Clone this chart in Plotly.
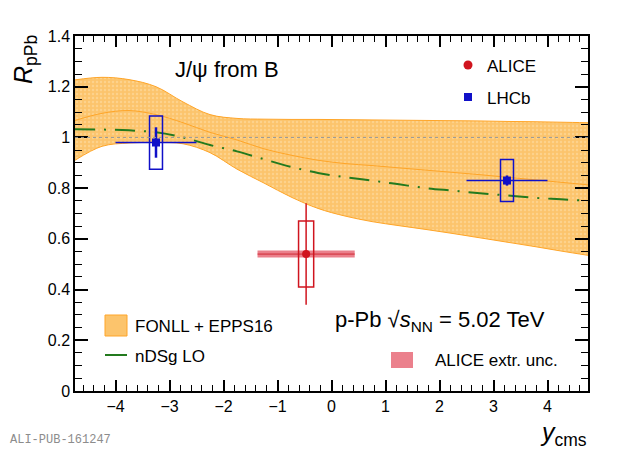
import plotly.graph_objects as go

# rapidity grid for the model curves
y_grid = [-4.75, -4.25, -3.75, -3.25, -2.75, -2.25, -1.75, -1.25, -0.75, -0.25,
          0.25, 0.75, 1.25, 1.75, 2.25, 2.75, 3.25, 3.75, 4.25, 4.75]

# FONLL + EPPS16 band
fonll_up = [1.227, 1.237, 1.228, 1.200, 1.140, 1.090, 1.075, 1.072, 1.071, 1.071,
            1.070, 1.069, 1.068, 1.067, 1.066, 1.065, 1.063, 1.062, 1.060, 1.058]
fonll_lo = [0.910, 0.965, 0.978, 0.980, 0.975, 0.940, 0.875, 0.820, 0.765, 0.720,
            0.690, 0.668, 0.652, 0.637, 0.621, 0.604, 0.587, 0.570, 0.552, 0.535]
fonll_c = [1.067, 1.095, 1.106, 1.090, 1.058, 1.020, 0.990, 0.955, 0.930, 0.910,
           0.897, 0.889, 0.880, 0.871, 0.862, 0.853, 0.843, 0.833, 0.823, 0.813]

# nDSg LO
ndsg = [1.032, 1.031, 1.028, 1.020, 1.000, 0.970, 0.945, 0.914, 0.884, 0.860,
        0.843, 0.830, 0.815, 0.800, 0.790, 0.780, 0.771, 0.762, 0.756, 0.750]

# ALICE
alice_x = [-0.47]
alice_y = [0.54]
alice_stat = [0.20]
alice_sys = [0.13]
alice_extr_lo = [-1.37]
alice_extr_hi = [0.43]

# LHCb
lhcb_x = [-3.25, 3.25]
lhcb_y = [0.98, 0.83]
lhcb_xerr = [0.75, 0.75]
lhcb_stat = [0.06, 0.02]
lhcb_sys = [0.105, 0.083]

RED = "#d0141e"
BLUE = "#1010c8"
GREEN = "#237a1e"
ORANGE = "#ffa528"
EXTR = "rgba(222,50,70,0.62)"
FONT = "Liberation Sans"


# screen pixel -> paper coords (plot area spans x 75..588, y 36..391 on screen)
def px(xp):
    return (xp - 75) / 513


def py(yp):
    return (391 - yp) / 355


fig = go.Figure()

# band
fig.add_trace(go.Scatter(x=y_grid, y=fonll_up, mode="lines", line=dict(color=ORANGE, width=1, shape="spline"),
                         showlegend=False))
fig.add_trace(go.Scatter(x=y_grid, y=fonll_lo, mode="lines", line=dict(color=ORANGE, width=1, shape="spline"),
                         fill="tonexty", fillcolor="#fdc775",
                         fillpattern=dict(shape=".", bgcolor="#fcc46c", fgcolor="#fee0ac", size=4, solidity=0.3),
                         showlegend=False))
fig.add_trace(go.Scatter(x=y_grid, y=fonll_c, mode="lines", line=dict(color=ORANGE, width=1, shape="spline"),
                         showlegend=False))
fig.add_trace(go.Scatter(x=y_grid, y=ndsg, mode="lines",
                         line=dict(color=GREEN, width=2, shape="spline", dash="20px,9px,2px,9px"),
                         showlegend=False))

# ALICE extrapolation uncertainty (wide band)
extr_minus = [x - a for x, a in zip(alice_x, alice_extr_lo)]
extr_plus = [b - x for x, b in zip(alice_x, alice_extr_hi)]
fig.add_trace(go.Scatter(x=alice_x, y=alice_y, mode="markers", marker=dict(size=1, opacity=0),
                         error_x=dict(type="data", symmetric=False, array=extr_plus, arrayminus=extr_minus,
                                      color=EXTR, thickness=7, width=0),
                         showlegend=False))
fig.add_trace(go.Scatter(x=alice_x, y=alice_y, mode="markers", marker=dict(color=RED, size=8, symbol="circle"),
                         error_x=dict(type="data", symmetric=False, array=extr_plus, arrayminus=extr_minus,
                                      color="rgba(200,20,30,0.8)", thickness=1, width=0),
                         error_y=dict(type="data", array=alice_stat, color=RED, thickness=1.5, width=0),
                         showlegend=False))

fig.add_trace(go.Scatter(x=lhcb_x, y=lhcb_y, mode="markers", marker=dict(color=BLUE, size=8, symbol="square"),
                         error_x=dict(type="data", array=lhcb_xerr, color=BLUE, thickness=1.5, width=0),
                         error_y=dict(type="data", array=lhcb_stat, color=BLUE, thickness=2.5, width=0),
                         showlegend=False))

# systematic boxes
for x, y, s in zip(alice_x, alice_y, alice_sys):
    fig.add_shape(type="rect", x0=x - 0.14, x1=x + 0.14, y0=y - s, y1=y + s, line=dict(color=RED, width=1.5))
for x, y, s in zip(lhcb_x, lhcb_y, lhcb_sys):
    fig.add_shape(type="rect", x0=x - 0.12, x1=x + 0.12, y0=y - s, y1=y + s, line=dict(color=BLUE, width=1.5))

# unity line
fig.add_shape(type="line", xref="paper", x0=0, x1=1, y0=1, y1=1, line=dict(color="#999999", width=1, dash="dot"))

# legend-like markers
fig.add_shape(type="circle", xref="paper", yref="paper", x0=px(463.5), x1=px(472.5), y0=py(69.5), y1=py(60.5),
              fillcolor=RED, line=dict(width=0))
fig.add_shape(type="rect", xref="paper", yref="paper", x0=px(464), x1=px(472), y0=py(101), y1=py(93),
              fillcolor=BLUE, line=dict(width=0))
fig.add_shape(type="rect", xref="paper", yref="paper", x0=px(105), x1=px(127), y0=py(336), y1=py(315),
              fillcolor="#fcc46c", line=dict(color=ORANGE, width=1))
fig.add_shape(type="line", xref="paper", yref="paper", x0=px(105), x1=px(127), y0=py(355), y1=py(355),
              line=dict(color=GREEN, width=2))
fig.add_shape(type="rect", xref="paper", yref="paper", x0=px(391), x1=px(413), y0=py(368), y1=py(352),
              fillcolor=EXTR, line=dict(width=0))

texts = [
    (px(173), py(70), "J/\u03c8 from B", 22),
    (px(485), py(66), "ALICE", 17),
    (px(485), py(98), "LHCb", 17),
    (px(133), py(326), "FONLL + EPPS16", 17),
    (px(133), py(356), "nDSg LO", 17),
    (px(333), py(321), "p-Pb \u221a<i>s</i><sub>NN</sub> = 5.02 TeV", 22),
    (px(433), py(360), "ALICE extr. unc.", 17),
]
for x, y, t, s in texts:
    fig.add_annotation(x=x, y=y, xref="paper", yref="paper", text=t, showarrow=False,
                       xanchor="left", yanchor="middle",
                       font=dict(family=FONT, size=s, color="black"))

# axis titles
fig.add_annotation(x=px(25), y=py(60), xref="paper", yref="paper", text="<i>R</i><sub>pPb</sub>", textangle=-90,
                   showarrow=False, xanchor="center", yanchor="middle",
                   font=dict(family=FONT, size=25, color="black"))
fig.add_annotation(x=px(589), y=py(434), xref="paper", yref="paper", text="<i>y</i><sub>cms</sub>",
                   showarrow=False, xanchor="right", yanchor="middle",
                   font=dict(family=FONT, size=25, color="black"))
fig.add_annotation(x=px(8), y=py(440), xref="paper", yref="paper", text="ALI-PUB-161247",
                   xanchor="left", yanchor="middle", showarrow=False,
                   font=dict(family="Liberation Mono", size=12, color="#8c8c8c"))

axis_common = dict(showline=True, linecolor="black", linewidth=1.5, mirror="ticks", ticks="inside",
                   tickcolor="black", tickwidth=1.5, showgrid=False, zeroline=False,
                   tickfont=dict(family=FONT, size=16, color="black"))
fig.update_xaxes(range=[-4.75, 4.75], dtick=1, tick0=0, ticklen=11,
                 minor=dict(dtick=0.2, tick0=0, ticks="inside", ticklen=6, tickcolor="black", tickwidth=1),
                 **axis_common)
fig.update_yaxes(range=[0, 1.4], dtick=0.2, tick0=0, ticklen=13,
                 minor=dict(dtick=0.05, tick0=0, ticks="inside", ticklen=7, tickcolor="black", tickwidth=1),
                 **axis_common)

# page has an 8px body margin, so the figure is 8px smaller than the window
fig.update_layout(width=612, height=441, margin=dict(l=67, r=32, t=28, b=58), plot_bgcolor="white",
                  paper_bgcolor="white", showlegend=False, font=dict(family=FONT))

fig.write_html("out.html")
